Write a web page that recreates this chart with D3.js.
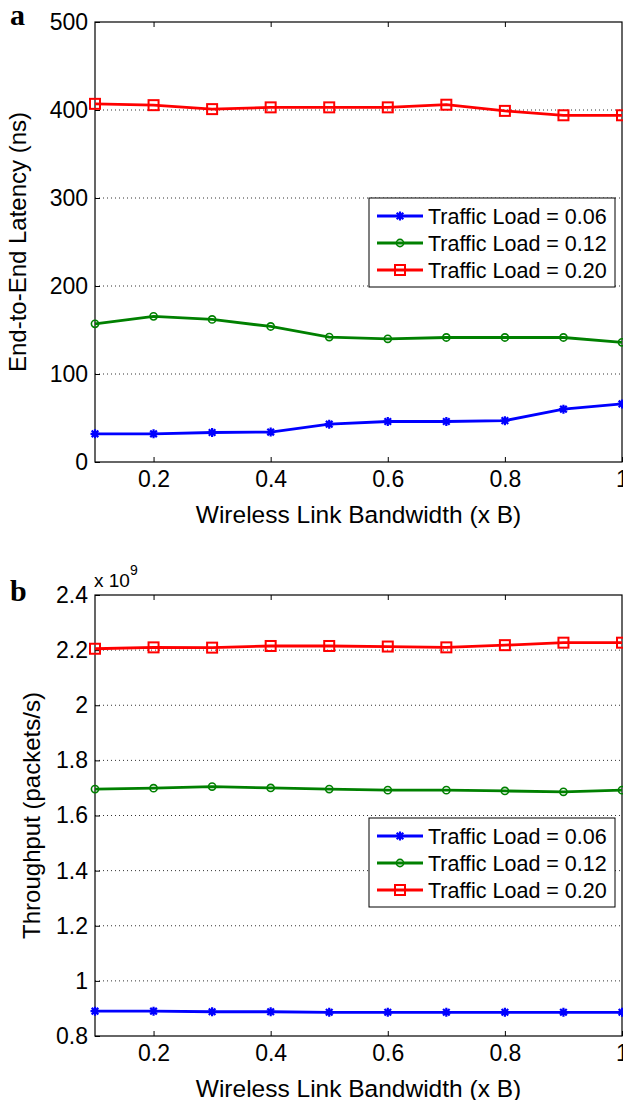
<!DOCTYPE html>
<html>
<head>
<meta charset="utf-8">
<script src="https://cdn.jsdelivr.net/npm/d3@7"></script>
<style>
  html, body { margin: 0; padding: 0; background: #fff; }
  svg { display: block; }
  text { font-family: Arial, "Liberation Sans", sans-serif; fill: #000; }
</style>
</head>
<body>
<svg id="fig" width="623" height="1100"></svg>
<script>
// Shared x values (wireless link bandwidth, multiples of B)
const bandwidth = [0.1, 0.2, 0.3, 0.4, 0.5, 0.6, 0.7, 0.8, 0.9, 1.0];
const xTicks = [0.2, 0.4, 0.6, 0.8, 1];

const seriesNames = ["Traffic Load = 0.06", "Traffic Load = 0.12", "Traffic Load = 0.20"];
const seriesColors = ["#0000ff", "#008000", "#ff0000"];
const seriesMarkers = ["star", "circle", "square"];

// Panel a: end-to-end latency (ns)
const latency006 = [32, 32, 33.5, 34, 43, 46, 46, 47, 60, 66];
const latency012 = [157, 165.5, 162, 154, 142, 140, 141.5, 141.5, 141.5, 136];
const latency020 = [407, 405.5, 401, 403, 403, 403, 406, 399, 394, 394];
const latencyTicks = [0, 100, 200, 300, 400, 500];

// Panel b: throughput (packets/s, in units of 1e9)
const throughput006 = [0.890, 0.890, 0.888, 0.888, 0.886, 0.886, 0.886, 0.886, 0.886, 0.886];
const throughput012 = [1.696, 1.699, 1.705, 1.700, 1.696, 1.692, 1.692, 1.689, 1.686, 1.692];
const throughput020 = [2.205, 2.210, 2.209, 2.215, 2.215, 2.213, 2.210, 2.218, 2.227, 2.227];
const throughputTicks = [0.8, 1, 1.2, 1.4, 1.6, 1.8, 2, 2.2, 2.4];

const svg = d3.select("#fig");
const left = 95, right = 622;

function drawMarker(g, type, color, x, y) {
  if (type === "square") {
    g.append("rect").attr("x", x - 5).attr("y", y - 5).attr("width", 10).attr("height", 10)
      .attr("fill", "none").attr("stroke", color).attr("stroke-width", 2);
  } else if (type === "circle") {
    g.append("circle").attr("cx", x).attr("cy", y).attr("r", 3.6)
      .attr("fill", "none").attr("stroke", color).attr("stroke-width", 1.6);
  } else {
    // asterisk: plus plus cross
    const s = 4.5, d = 3.3;
    const p = `M${x - s},${y}L${x + s},${y}M${x},${y - s}L${x},${y + s}` +
              `M${x - d},${y - d}L${x + d},${y + d}M${x - d},${y + d}L${x + d},${y - d}`;
    g.append("path").attr("d", p).attr("stroke", color).attr("stroke-width", 2.2).attr("fill", "none");
  }
}

function panel(opts) {
  const { top, bottom, yDomain, yTicks, yFmt, series, yLabel, yLabelX, letter, letterY, legendTop, exponent } = opts;
  const x = d3.scaleLinear().domain([0.1, 1]).range([left, right]);
  const y = d3.scaleLinear().domain(yDomain).range([bottom, top]);
  const g = svg.append("g");

  // dotted horizontal grid
  g.append("g").selectAll("line").data(yTicks.slice(1, -1)).join("line")
    .attr("x1", left).attr("x2", right)
    .attr("y1", d => y(d)).attr("y2", d => y(d))
    .attr("stroke", "#333").attr("stroke-width", 1).attr("stroke-dasharray", "1,3");

  // axes with inward ticks
  const ax = g.append("g").attr("transform", `translate(0,${bottom})`)
    .call(d3.axisBottom(x).tickValues(xTicks).tickSizeInner(-5).tickSizeOuter(0).tickPadding(9)
      .tickFormat(d => d === 1 ? "1" : d3.format(".1f")(d)));
  ax.select(".domain").remove();
  ax.selectAll("line").attr("stroke", "#000");
  ax.selectAll("text").style("font-size", "23px").style("font-family", "Arial, 'Liberation Sans', sans-serif");

  const axTop = g.append("g").attr("transform", `translate(0,${top})`)
    .call(d3.axisTop(x).tickValues(xTicks.slice(0, -1)).tickSizeInner(-5).tickSizeOuter(0).tickFormat(""));
  axTop.select(".domain").remove();
  axTop.selectAll("line").attr("stroke", "#000");

  const ay = g.append("g").attr("transform", `translate(${left},0)`)
    .call(d3.axisLeft(y).tickValues(yTicks).tickSizeInner(-5).tickSizeOuter(0).tickPadding(7).tickFormat(yFmt));
  ay.select(".domain").remove();
  ay.selectAll("line").attr("stroke", "#000");
  ay.selectAll("text").style("font-size", "23px").style("font-family", "Arial, 'Liberation Sans', sans-serif");

  // plot box
  g.append("rect").attr("x", left).attr("y", top).attr("width", right - left).attr("height", bottom - top)
    .attr("fill", "none").attr("stroke", "#000").attr("stroke-width", 1.2);

  // series lines and markers
  const line = d3.line().x((d, i) => x(bandwidth[i])).y(d => y(d));
  series.forEach((vals, k) => {
    g.append("path").datum(vals).attr("d", line)
      .attr("fill", "none").attr("stroke", seriesColors[k]).attr("stroke-width", 2.8);
    vals.forEach((v, i) => drawMarker(g, seriesMarkers[k], seriesColors[k], x(bandwidth[i]), y(v)));
  });

  // x-axis label
  g.append("text").attr("x", (left + right) / 2).attr("y", bottom + 61)
    .attr("text-anchor", "middle").style("font-size", "24.5px").text("Wireless Link Bandwidth (x B)");

  // y-axis label
  g.append("text").attr("transform", `translate(${yLabelX},${(top + bottom) / 2}) rotate(-90)`)
    .attr("text-anchor", "middle").attr("dy", "0.35em").style("font-size", "24px").text(yLabel);

  // panel letter
  g.append("text").attr("x", 10).attr("y", letterY)
    .style("font-family", "'Liberation Serif', 'Times New Roman', serif")
    .style("font-weight", "bold").style("font-size", "30px").text(letter);

  if (exponent) {
    const e = g.append("text").attr("x", left - 1).attr("y", top - 8).style("font-size", "19px");
    e.append("tspan").text("x 10");
    e.append("tspan").attr("dy", -12).style("font-size", "14px").text("9");
  }

  // legend
  const lg = g.append("g");
  const lx = 369, lw = 246, lh = 89;
  lg.append("rect").attr("x", lx).attr("y", legendTop).attr("width", lw).attr("height", lh)
    .attr("fill", "#fff").attr("stroke", "#000").attr("stroke-width", 1);
  seriesNames.forEach((name, k) => {
    const ry = legendTop + 18 + k * 27;
    lg.append("line").attr("x1", 377).attr("x2", 423).attr("y1", ry).attr("y2", ry)
      .attr("stroke", seriesColors[k]).attr("stroke-width", 2.8);
    drawMarker(lg, seriesMarkers[k], seriesColors[k], 400, ry);
    lg.append("text").attr("x", 428).attr("y", ry).attr("dy", "0.36em")
      .style("font-size", "21.5px").text(name);
  });
}

panel({
  top: 22, bottom: 462, yDomain: [0, 500], yTicks: latencyTicks, yFmt: d3.format("d"),
  series: [latency006, latency012, latency020],
  yLabel: "End-to-End Latency (ns)", yLabelX: 18, letter: "a", letterY: 25, legendTop: 198
});

panel({
  top: 595, bottom: 1036, yDomain: [0.8, 2.4], yTicks: throughputTicks,
  yFmt: d => (Math.abs(d - Math.round(d)) < 1e-9 ? String(Math.round(d)) : d3.format(".1f")(d)),
  series: [throughput006, throughput012, throughput020],
  yLabel: "Throughput (packets/s)", yLabelX: 32, letter: "b", letterY: 601, legendTop: 818, exponent: true
});
</script>
</body>
</html>
